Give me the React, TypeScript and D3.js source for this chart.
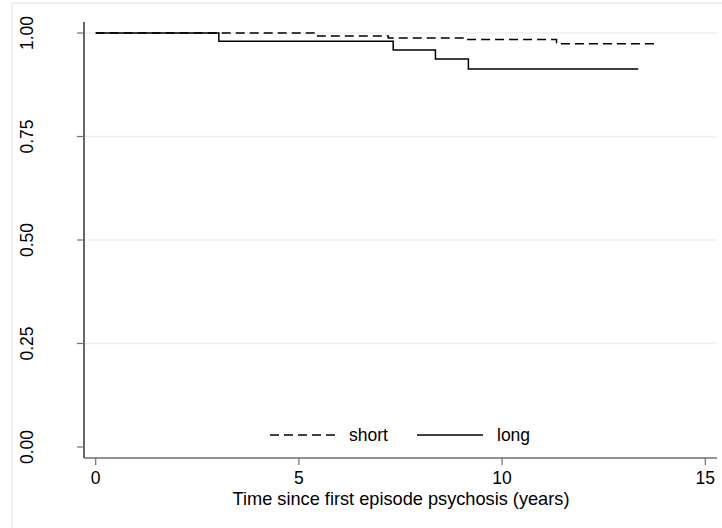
import React from 'react';
import * as d3 from 'd3';

// Kaplan-Meier step points
const shortTimes = [0, 5.4, 7.2, 9.1, 11.34, 13.8];
const shortSurv = [1, 0.993, 0.988, 0.984, 0.974, 0.974];
const longTimes = [0, 3.03, 7.32, 8.36, 9.17, 13.35];
const longSurv = [1, 0.98, 0.959, 0.937, 0.913, 0.913];

const xTicks = [0, 5, 10, 15];
const yTicks = [0, 0.25, 0.5, 0.75, 1];
const legendLabels = ['short', 'long'];

const W = 722;
const H = 528;
const font = '"Liberation Sans", Arial, sans-serif';

const colors = {
  frame: '#e6eef0',
  grid: '#eaf2f3',
  axis: '#000000',
  xAxis: '#6e6e6e',
  tick: '#6e6e6e',
  text: '#000000',
  line: '#000000',
};

export default function App() {
  const x = d3.scaleLinear().domain([0, 15]).range([95.7, 705.3]);
  const y = d3.scaleLinear().domain([0, 1]).range([447, 33]);

  const line = d3
    .line<[number, number]>()
    .x((d) => x(d[0]))
    .y((d) => y(d[1]))
    .curve(d3.curveStepAfter);

  const shortPts = shortTimes.map((t, i) => [t, shortSurv[i]] as [number, number]);
  const longPts = longTimes.map((t, i) => [t, longSurv[i]] as [number, number]);

  const axisY = 458;
  const axisX = 84;

  return (
    <svg
      width={W}
      height={H}
      viewBox={`0 0 ${W} ${H}`}
      style={{ position: 'absolute', left: 0, top: 0, background: '#fff' }}
    >
      {/* outer frame */}
      <rect x={12} y={3} width={W} height={H} fill="#fff" stroke={colors.frame} strokeWidth={1.5} />

      {/* grid */}
      {yTicks
        .filter((t) => t > 0)
        .map((t) => (
          <line key={t} x1={axisX} x2={717} y1={y(t)} y2={y(t)} stroke={colors.grid} strokeWidth={1.5} />
        ))}

      {/* y axis */}
      <line x1={axisX} x2={axisX} y1={22} y2={axisY} stroke={colors.axis} strokeWidth={1.2} />
      {yTicks.map((t) => (
        <g key={t}>
          <line x1={77} x2={axisX} y1={y(t)} y2={y(t)} stroke={colors.tick} strokeWidth={1.2} />
          <text
            transform={`translate(33,${y(t)}) rotate(-90)`}
            textAnchor="middle"
            fontFamily={font}
            fontSize={17.5}
            fill={colors.text}
          >
            {t.toFixed(2)}
          </text>
        </g>
      ))}

      {/* x axis */}
      <line x1={axisX} x2={717} y1={axisY} y2={axisY} stroke={colors.xAxis} strokeWidth={1.4} />
      {xTicks.map((t) => (
        <g key={t}>
          <line x1={x(t)} x2={x(t)} y1={axisY} y2={axisY + 7} stroke={colors.tick} strokeWidth={1.2} />
          <text x={x(t)} y={484} textAnchor="middle" fontFamily={font} fontSize={17.5} fill={colors.text}>
            {t}
          </text>
        </g>
      ))}
      <text x={401} y={504.5} textAnchor="middle" fontFamily={font} fontSize={18.2} fill={colors.text}>
        Time since first episode psychosis (years)
      </text>

      {/* survival curves */}
      <path d={line(shortPts) ?? ''} fill="none" stroke={colors.line} strokeWidth={1.5} strokeDasharray="9,5" />
      <path d={line(longPts) ?? ''} fill="none" stroke={colors.line} strokeWidth={1.5} />

      {/* legend */}
      <line x1={270} x2={338} y1={435} y2={435} stroke={colors.line} strokeWidth={1.5} strokeDasharray="9,5" />
      <text x={349} y={441} fontFamily={font} fontSize={17.5} fill={colors.text}>
        {legendLabels[0]}
      </text>
      <line x1={417} x2={483} y1={435} y2={435} stroke={colors.line} strokeWidth={1.5} />
      <text x={497} y={441} fontFamily={font} fontSize={17.5} fill={colors.text}>
        {legendLabels[1]}
      </text>
    </svg>
  );
}
